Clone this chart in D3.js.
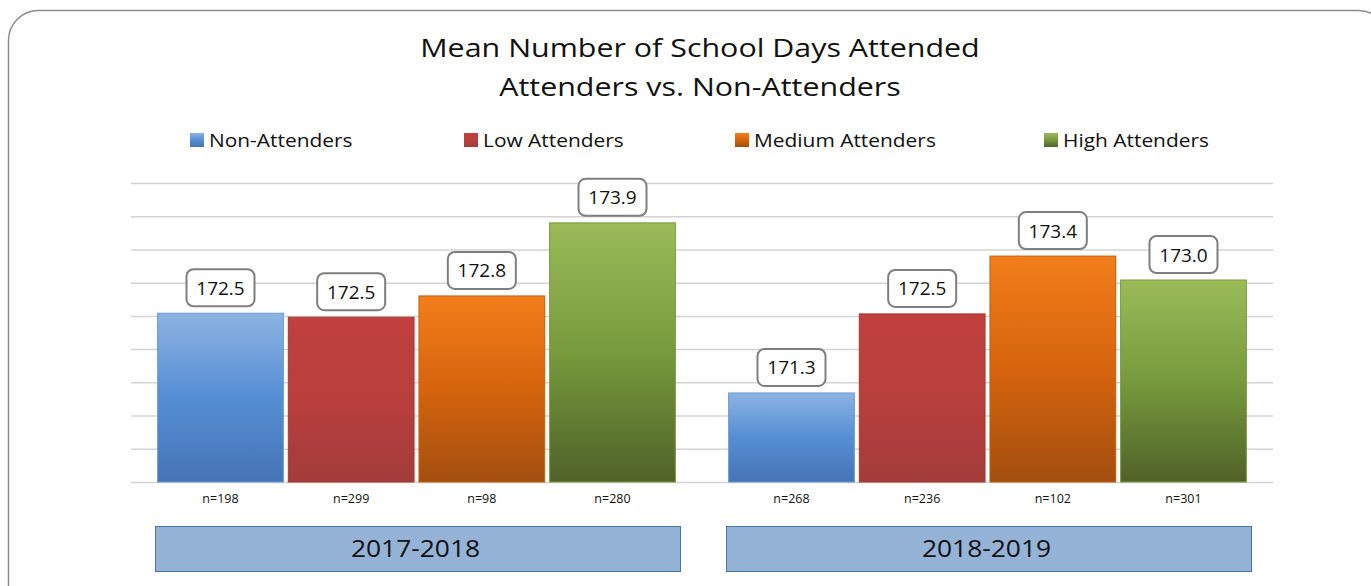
<!DOCTYPE html>
<html>
<head>
<meta charset="utf-8">
<script src="https://cdn.jsdelivr.net/npm/d3@7"></script>
<style>
  body { margin: 0; background: #fff; }
  svg { display: block; font-family: "Open Sans", sans-serif; }
</style>
</head>
<body>
<div id="chart"></div>
<script>
var width = 1371;
var height = 586;

var years = ['2017-2018', '2018-2019'];
var series = ['Non-Attenders', 'Low Attenders', 'Medium Attenders', 'High Attenders'];
var values2017 = [172.54, 172.48, 172.80, 173.90];
var values2018 = [171.34, 172.53, 173.40, 173.04];
var counts2017 = [198, 299, 98, 280];
var counts2018 = [268, 236, 102, 301];
var titleLines = ['Mean Number of School Days Attended', 'Attenders vs. Non-Attenders'];

// gradient stops per series: top, middle, bottom
var fills = [
  ['#8db3e2', '#558ed5', '#4574b4'],
  ['#c0403e', '#b93f3d', '#a33c3b'],
  ['#f27d1a', '#d6640d', '#a34e0f'],
  ['#9bbb59', '#779a3c', '#4f6228']
];
var strokes = ['#6a9ad8', '#a7372f', '#c0600e', '#7a9a3e'];

var rows = [];
years.forEach(function(yr, i) {
  var vals = i === 0 ? values2017 : values2018;
  var ns = i === 0 ? counts2017 : counts2018;
  series.forEach(function(s, j) {
    rows.push({ year: yr, series: s, idx: j, value: vals[j], n: ns[j] });
  });
});

var svg = d3.select('#chart').append('svg')
  .attr('width', width)
  .attr('height', height);

var defs = svg.append('defs');
fills.forEach(function(f, i) {
  var g = defs.append('linearGradient')
    .attr('id', 'grad' + i)
    .attr('x1', 0).attr('y1', 0).attr('x2', 0).attr('y2', 1);
  g.append('stop').attr('offset', '0%').attr('stop-color', f[0]);
  g.append('stop').attr('offset', '50%').attr('stop-color', f[1]);
  g.append('stop').attr('offset', '100%').attr('stop-color', f[2]);
});

// outer panel
svg.append('rect')
  .attr('x', 8.5).attr('y', 10.5)
  .attr('width', 1380).attr('height', 620)
  .attr('rx', 30).attr('ry', 30)
  .attr('fill', 'none')
  .attr('stroke', '#8c8c8c')
  .attr('stroke-width', 1.5);

// title (source font is a bit wider, so stretch horizontally)
svg.append('g').selectAll('text').data(titleLines)
  .enter().append('text')
  .attr('transform', function(d, i) { return 'translate(700,' + (57 + i * 39) + ') scale(1.17,1)'; })
  .attr('text-anchor', 'middle')
  .attr('font-size', 26)
  .attr('fill', '#111')
  .text(function(d) { return d; });

// legend
var legendX = [190, 464, 735, 1044];
var legend = svg.append('g').selectAll('g').data(series)
  .enter().append('g')
  .attr('transform', function(d, i) { return 'translate(' + legendX[i] + ',140)'; });
legend.append('rect')
  .attr('x', 0).attr('y', -7)
  .attr('width', 14).attr('height', 14)
  .attr('fill', function(d, i) { return 'url(#grad' + i + ')'; });
legend.append('text')
  .attr('transform', 'translate(19,7) scale(1.1,1)')
  .attr('font-size', 19)
  .attr('fill', '#111')
  .text(function(d) { return d; });

var plotLeft = 131, plotRight = 1273, plotTop = 183, plotBottom = 482;

var x0 = d3.scaleBand().domain(years).range([plotLeft, plotRight]);
var x1 = d3.scaleBand().domain(series).range([0, x0.bandwidth()])
  .paddingInner(0.03).paddingOuter(0.2);
var y = d3.scaleLinear().domain([170, 174.5]).range([plotBottom, plotTop]);

// gridlines
var grid = svg.append('g')
  .attr('transform', 'translate(' + plotLeft + ',0)')
  .call(d3.axisLeft(y).ticks(9).tickSize(-(plotRight - plotLeft)).tickFormat(''));
grid.select('.domain').remove();
grid.selectAll('.tick line')
  .attr('stroke', '#d3d3d3')
  .attr('stroke-width', 1.5);

// bars
var bars = svg.append('g').selectAll('g.bar').data(rows)
  .enter().append('g')
  .attr('class', 'bar')
  .attr('transform', function(d) { return 'translate(' + (x0(d.year) + x1(d.series)) + ',0)'; });

bars.append('rect')
  .attr('x', 0.5)
  .attr('y', function(d) { return y(d.value); })
  .attr('width', x1.bandwidth() - 1)
  .attr('height', function(d) { return plotBottom - y(d.value); })
  .attr('fill', function(d) { return 'url(#grad' + d.idx + ')'; })
  .attr('stroke', function(d) { return strokes[d.idx]; })
  .attr('stroke-width', 1);

// value callouts
var boxW = 68, boxH = 37;
bars.append('rect')
  .attr('x', x1.bandwidth() / 2 - boxW / 2)
  .attr('y', function(d) { return y(d.value) - 7 - boxH; })
  .attr('width', boxW).attr('height', boxH)
  .attr('rx', 7).attr('ry', 7)
  .attr('fill', '#fff')
  .attr('stroke', '#7f7f7f')
  .attr('stroke-width', 2);
bars.append('text')
  .attr('x', x1.bandwidth() / 2)
  .attr('y', function(d) { return y(d.value) - 7 - boxH / 2 + 7; })
  .attr('text-anchor', 'middle')
  .attr('font-size', 19)
  .attr('fill', '#111')
  .text(function(d) { return d3.format('.1f')(d.value); });

// n labels
bars.append('text')
  .attr('x', x1.bandwidth() / 2)
  .attr('y', 503)
  .attr('text-anchor', 'middle')
  .attr('font-size', 12.5)
  .attr('fill', '#111')
  .text(function(d) { return 'n=' + d.n; });

// year boxes
var yearBox = svg.append('g').selectAll('g').data(years)
  .enter().append('g');
yearBox.append('rect')
  .attr('x', function(d) { return x0(d) + 24.5; })
  .attr('y', 526.5)
  .attr('width', x0.bandwidth() - 46)
  .attr('height', 45)
  .attr('fill', '#95b3d7')
  .attr('stroke', '#4a73a8')
  .attr('stroke-width', 1);
yearBox.append('text')
  .attr('transform', function(d) { return 'translate(' + (x0(d) + x0.bandwidth() / 2 - 1) + ',557) scale(1.1,1)'; })
  .attr('text-anchor', 'middle')
  .attr('font-size', 24)
  .attr('fill', '#111')
  .text(function(d) { return d; });
</script>
</body>
</html>
